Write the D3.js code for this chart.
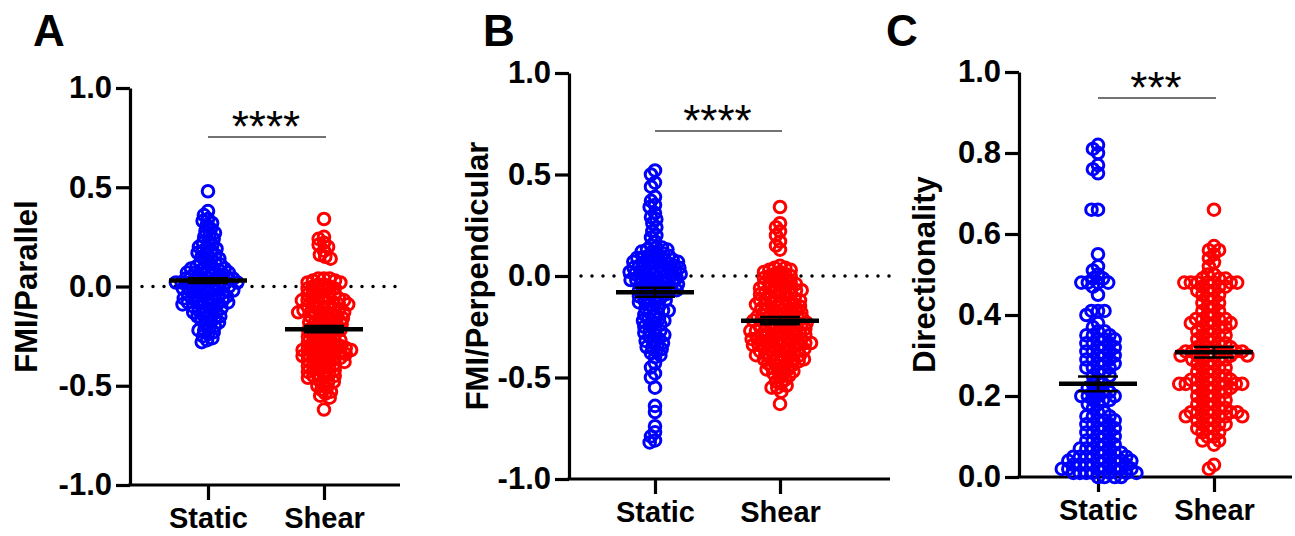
<!DOCTYPE html>
<meta charset="utf-8">
<head>
  <style>
    body { margin: 0; background: #fff; }
    .tick text { font-family: Arial, "Liberation Sans", sans-serif; font-weight: bold; fill: #000; }
    .axis-title { font-family: Arial, "Liberation Sans", sans-serif; font-weight: bold; font-size: 31px; }
    .panel-letter { font-family: Arial, "Liberation Sans", sans-serif; font-weight: bold; font-size: 44px; }
    .stars { font-family: Arial, "Liberation Sans", sans-serif; font-size: 44px; }
  </style>
</head>
<script src="https://d3js.org/d3.v7.min.js"></script>
<div id="my_dataviz"></div>
<script>
// categories and values
const categories = ["Static", "Shear"];

const parallelStatic = [0.48, 0.38, 0.36,
  0.34, 0.33, 0.32, 0.31,
  0.29, 0.28, 0.27, 0.26, 0.25,
  0.24, 0.23, 0.22, 0.21, 0.20, 0.20,
  0.19, 0.18, 0.18, 0.17, 0.16, 0.16, 0.15,
  0.14, 0.14, 0.13, 0.12, 0.12, 0.11, 0.11, 0.10, 0.10,
  0.09, 0.09, 0.09, 0.08, 0.08, 0.08, 0.07, 0.07, 0.07, 0.06, 0.06, 0.06, 0.05, 0.05, 0.05,
  0.04, 0.04, 0.04, 0.04, 0.03, 0.03, 0.03, 0.03, 0.02, 0.02, 0.02, 0.02, 0.01, 0.01, 0.01, 0.00, 0.00, 0.00,
  -0.01, -0.01, -0.01, -0.01, -0.02, -0.02, -0.02, -0.03, -0.03, -0.03, -0.04, -0.04, -0.04, -0.05, -0.05, -0.05,
  -0.06, -0.06, -0.06, -0.07, -0.07, -0.07, -0.08, -0.08, -0.08, -0.09, -0.09, -0.09, -0.10, -0.10,
  -0.11, -0.11, -0.12, -0.12, -0.13, -0.13, -0.14, -0.14, -0.15, -0.15,
  -0.16, -0.16, -0.17, -0.18, -0.18, -0.19, -0.20,
  -0.21, -0.22, -0.22, -0.23, -0.24, -0.25, -0.26, -0.27, -0.28];
const parallelShear = [0.34, 0.25, 0.24, 0.22, 0.21, 0.20, 0.18, 0.16, 0.15, 0.14,
  0.04, 0.04, 0.04, 0.03, 0.03, 0.02, 0.02, 0.01, 0.01, 0.00, 0.00,
  -0.01, -0.01, -0.02, -0.02, -0.03, -0.03, -0.04, -0.04, -0.05, -0.05,
  -0.06, -0.06, -0.06, -0.07, -0.07, -0.07, -0.08, -0.08, -0.08, -0.09, -0.09, -0.09, -0.10, -0.10,
  -0.11, -0.11, -0.11, -0.12, -0.12, -0.12, -0.13, -0.13, -0.13, -0.14, -0.14, -0.14, -0.15, -0.15,
  -0.16, -0.16, -0.17, -0.17, -0.18, -0.18, -0.18, -0.19, -0.19, -0.20, -0.20,
  -0.21, -0.21, -0.22, -0.22, -0.22, -0.23, -0.23, -0.24, -0.24, -0.25, -0.25,
  -0.26, -0.26, -0.27, -0.27, -0.27, -0.28, -0.28, -0.29, -0.29, -0.30, -0.30, -0.30,
  -0.31, -0.31, -0.31, -0.32, -0.32, -0.32, -0.32, -0.33, -0.33, -0.33, -0.34, -0.34, -0.34, -0.35, -0.35, -0.35,
  -0.36, -0.36, -0.36, -0.37, -0.37, -0.38, -0.38, -0.38, -0.39, -0.39, -0.40, -0.40,
  -0.41, -0.41, -0.42, -0.42, -0.43, -0.43, -0.44, -0.44, -0.45, -0.45,
  -0.46, -0.46, -0.47, -0.48, -0.48, -0.49, -0.50,
  -0.51, -0.52, -0.53, -0.54, -0.55, -0.56, -0.62];

const perpStatic = [0.52, 0.50, 0.46, 0.44, 0.39, 0.37, 0.35, 0.34, 0.31, 0.29, 0.28, 0.26, 0.24, 0.22, 0.20, 0.19, 0.17,
  0.15, 0.14, 0.14, 0.13, 0.13, 0.12, 0.12, 0.11, 0.11, 0.10, 0.10,
  0.09, 0.09, 0.09, 0.08, 0.08, 0.08, 0.07, 0.07, 0.07, 0.06, 0.06, 0.06, 0.05, 0.05, 0.05,
  0.04, 0.04, 0.04, 0.03, 0.03, 0.03, 0.03, 0.02, 0.02, 0.02, 0.01, 0.01, 0.01, 0.01, 0.00, 0.00, 0.00,
  -0.01, -0.01, -0.01, -0.02, -0.02, -0.02, -0.02, -0.03, -0.03, -0.03, -0.04, -0.04, -0.04, -0.05, -0.05,
  -0.06, -0.06, -0.06, -0.07, -0.07, -0.07, -0.08, -0.08, -0.09, -0.09, -0.10, -0.10,
  -0.11, -0.11, -0.12, -0.12, -0.13, -0.13, -0.14, -0.15,
  -0.16, -0.16, -0.17, -0.17, -0.18, -0.18, -0.19, -0.20,
  -0.21, -0.21, -0.22, -0.22, -0.23, -0.24, -0.24, -0.25,
  -0.26, -0.27, -0.27, -0.28, -0.29, -0.29, -0.30,
  -0.31, -0.32, -0.32, -0.33, -0.34, -0.35, -0.35,
  -0.36, -0.37, -0.38, -0.39, -0.40,
  -0.43, -0.45, -0.48, -0.50, -0.55, -0.64, -0.67, -0.74, -0.77, -0.79, -0.81, -0.82];
const perpShear = [0.34, 0.26, 0.24, 0.22, 0.20, 0.17, 0.15, 0.13,
  0.05, 0.04, 0.04, 0.03, 0.03, 0.02, 0.02, 0.01, 0.01, 0.00, 0.00,
  -0.01, -0.01, -0.02, -0.02, -0.03, -0.03, -0.04, -0.04, -0.04, -0.05, -0.05,
  -0.06, -0.06, -0.06, -0.07, -0.07, -0.07, -0.08, -0.08, -0.08, -0.09, -0.09, -0.10, -0.10,
  -0.11, -0.11, -0.11, -0.12, -0.12, -0.12, -0.13, -0.13, -0.13, -0.14, -0.14, -0.14, -0.15, -0.15, -0.15,
  -0.16, -0.16, -0.16, -0.17, -0.17, -0.17, -0.18, -0.18, -0.18, -0.19, -0.19, -0.19, -0.20, -0.20, -0.20,
  -0.21, -0.21, -0.21, -0.21, -0.22, -0.22, -0.22, -0.23, -0.23, -0.23, -0.23, -0.24, -0.24, -0.24, -0.25, -0.25, -0.25,
  -0.26, -0.26, -0.26, -0.26, -0.27, -0.27, -0.27, -0.27, -0.28, -0.28, -0.28, -0.29, -0.29, -0.29, -0.29, -0.30, -0.30, -0.30,
  -0.31, -0.31, -0.31, -0.31, -0.32, -0.32, -0.32, -0.32, -0.33, -0.33, -0.33, -0.33, -0.34, -0.34, -0.34, -0.34, -0.35, -0.35, -0.35,
  -0.36, -0.36, -0.36, -0.36, -0.37, -0.37, -0.37, -0.38, -0.38, -0.38, -0.39, -0.39, -0.39, -0.40, -0.40, -0.40,
  -0.41, -0.41, -0.41, -0.42, -0.42, -0.42, -0.43, -0.43, -0.44, -0.44, -0.45, -0.45,
  -0.46, -0.46, -0.47, -0.47, -0.48, -0.48, -0.49, -0.50,
  -0.51, -0.52, -0.53, -0.54, -0.55, -0.55, -0.57, -0.63];

const dirStatic = [0.82, 0.81, 0.80, 0.77, 0.76, 0.75, 0.66, 0.66, 0.55,
  0.52, 0.51, 0.50, 0.49, 0.49, 0.48, 0.48, 0.48, 0.48, 0.47, 0.45,
  0.41, 0.41, 0.41, 0.40, 0.38, 0.37, 0.36, 0.36,
  0.35, 0.35, 0.35, 0.34, 0.34, 0.34, 0.33, 0.33, 0.33, 0.32, 0.32, 0.32, 0.31, 0.31, 0.31,
  0.30, 0.30, 0.30, 0.29, 0.29, 0.29, 0.28, 0.28, 0.28, 0.27, 0.27, 0.27,
  0.26, 0.26, 0.25, 0.25, 0.24, 0.23, 0.23,
  0.22, 0.22, 0.21, 0.21, 0.21, 0.20, 0.20, 0.20, 0.20, 0.19, 0.19, 0.19, 0.18, 0.18,
  0.17, 0.16, 0.16, 0.15, 0.15, 0.15, 0.14, 0.14, 0.14, 0.13, 0.13, 0.13, 0.12, 0.12, 0.12, 0.11, 0.11, 0.11, 0.10, 0.10, 0.10,
  0.09, 0.09, 0.09, 0.08, 0.08, 0.08, 0.07, 0.07, 0.07, 0.07, 0.06, 0.06, 0.06, 0.06,
  0.05, 0.05, 0.05, 0.05, 0.05, 0.05, 0.04, 0.04, 0.04, 0.04, 0.04, 0.04,
  0.03, 0.03, 0.03, 0.03, 0.03, 0.03, 0.02, 0.02, 0.02, 0.02, 0.02, 0.02, 0.02,
  0.01, 0.01, 0.01, 0.01, 0.01, 0.01, 0.01, 0.00, 0.00, 0.00, 0.00];
const dirShear = [0.66, 0.57, 0.56, 0.56, 0.55, 0.54, 0.53, 0.52,
  0.50, 0.50, 0.49, 0.49, 0.49, 0.48, 0.48, 0.48, 0.48, 0.48, 0.48, 0.48, 0.47, 0.47, 0.47, 0.46, 0.46, 0.46, 0.45, 0.45,
  0.44, 0.44, 0.43, 0.43, 0.42, 0.42, 0.41, 0.41, 0.40, 0.40,
  0.39, 0.39, 0.39, 0.39, 0.38, 0.38, 0.38, 0.38, 0.37, 0.37, 0.37, 0.36, 0.36, 0.36, 0.35, 0.35, 0.35,
  0.34, 0.34, 0.34, 0.33, 0.33, 0.33,
  0.32, 0.32, 0.32, 0.32, 0.31, 0.31, 0.31, 0.31, 0.31, 0.31, 0.31, 0.30, 0.30, 0.30, 0.30, 0.30, 0.30, 0.29, 0.29, 0.29, 0.29,
  0.28, 0.28, 0.28, 0.27, 0.27, 0.27, 0.26, 0.26, 0.26, 0.25, 0.25, 0.25,
  0.24, 0.24, 0.24, 0.24, 0.24, 0.23, 0.23, 0.23, 0.23, 0.23, 0.23, 0.23, 0.22, 0.22, 0.22, 0.22, 0.21, 0.21, 0.21,
  0.20, 0.20, 0.20, 0.19, 0.19, 0.19, 0.18, 0.18, 0.18, 0.17, 0.17, 0.17,
  0.16, 0.16, 0.16, 0.16, 0.16, 0.16, 0.15, 0.15, 0.15, 0.15, 0.15, 0.14, 0.14, 0.14, 0.13, 0.13, 0.13, 0.12, 0.12, 0.12,
  0.11, 0.11, 0.10, 0.10, 0.09, 0.09, 0.08, 0.03, 0.02];

// mean and SEM as drawn in the figure
const parallelMean = [0.03, -0.215], parallelSem = [0.012, 0.016];
const perpMean = [-0.08, -0.22], perpSem = [0.022, 0.018];
const dirMean = [0.23, 0.308], dirSem = [0.018, 0.013];

// tick values / labels
const fmiTicks = [-1, -0.5, 0, 0.5, 1];
const fmiTickLabels = ["-1.0", "-0.5", "0.0", "0.5", "1.0"];
const dirTicks = [0, 0.2, 0.4, 0.6, 0.8, 1];
const dirTickLabels = ["0.0", "0.2", "0.4", "0.6", "0.8", "1.0"];

const COLORS = ["#0000FF", "#FF0000"];

const panels = [
  { letter: "A", lx: 33, title: "FMI/Parallel", ax: 130, xEnd: 400, cx: [208, 324], top: 88, bot: 485,
    domain: [-1, 1], ticks: fmiTicks, labels: fmiTickLabels, groups: [parallelStatic, parallelShear],
    mean: parallelMean, sem: parallelSem, stars: "****", sigY: 137, zero: true, titleX: 26, spacing: 5.7 },
  { letter: "B", lx: 483, title: "FMI/Perpendicular", ax: 569, xEnd: 890, cx: [655, 780], top: 73, bot: 479,
    domain: [-1, 1], ticks: fmiTicks, labels: fmiTickLabels, groups: [perpStatic, perpShear],
    mean: perpMean, sem: perpSem, stars: "****", sigY: 131, zero: true, titleX: 477, spacing: 5.7 },
  { letter: "C", lx: 886, title: "Directionality", ax: 1019, xEnd: 1292, cx: [1098, 1214], top: 72, bot: 477,
    domain: [0, 1], ticks: dirTicks, labels: dirTickLabels, groups: [dirStatic, dirShear],
    mean: dirMean, sem: dirSem, stars: "***", sigY: 98, zero: false, titleX: 924, spacing: 6.5 }
];

const svg = d3.select("#my_dataviz")
  .append("svg")
  .attr("width", 1295)
  .attr("height", 536);

// simple beeswarm: place each point as close to the centre as it can go
function swarm(values, y, minDist) {
  const pts = values.map(v => ({ v: v, y: y(v) })).sort((a, b) => a.y - b.y);
  const placed = [];
  pts.forEach(p => {
    const blocked = [];
    placed.forEach(q => {
      const dy = Math.abs(p.y - q.y);
      if (dy < minDist) {
        const dx = Math.sqrt(minDist * minDist - dy * dy);
        blocked.push([q.x - dx, q.x + dx]);
      }
    });
    const cands = [0];
    blocked.forEach(b => cands.push(b[0], b[1]));
    cands.sort((a, b) => Math.abs(a) - Math.abs(b));
    p.x = cands.find(c => blocked.every(b => c <= b[0] + 1e-6 || c >= b[1] - 1e-6));
    placed.push(p);
  });
  return pts;
}

panels.forEach(P => {
  const g = svg.append("g");
  const y = d3.scaleLinear().domain(P.domain).range([P.bot, P.top]);
  const x = d3.scaleOrdinal().domain(categories).range(P.cx);

  // y axis
  g.append("g")
    .attr("transform", `translate(${P.ax},0)`)
    .call(d3.axisLeft(y).tickValues(P.ticks).tickFormat((d, i) => P.labels[i]).tickSize(14).tickSizeOuter(0).tickPadding(4))
    .call(a => a.selectAll("line, path").attr("stroke", "#000").attr("stroke-width", 3.2))
    .call(a => a.selectAll("text").style("font-size", "31px"));

  // x axis
  const xa = g.append("g")
    .attr("transform", `translate(0,${P.bot})`)
    .call(d3.axisBottom(x).tickSize(15).tickPadding(7));
  xa.select(".domain").remove();
  xa.selectAll("line").attr("stroke", "#000").attr("stroke-width", 3.2);
  xa.selectAll("text").style("font-size", "29px");
  g.append("line")
    .attr("x1", P.ax - 1.6).attr("x2", P.xEnd)
    .attr("y1", P.bot).attr("y2", P.bot)
    .attr("stroke", "#000").attr("stroke-width", 3.2);

  // dotted line at zero
  if (P.zero) {
    g.append("line")
      .attr("x1", P.ax + 12).attr("x2", P.xEnd)
      .attr("y1", y(0)).attr("y2", y(0))
      .attr("stroke", "#000").attr("stroke-width", 3.5)
      .attr("stroke-linecap", "round")
      .attr("stroke-dasharray", "0,11");
  }

  // points
  P.groups.forEach((vals, gi) => {
    const pts = swarm(vals, y, P.spacing);
    g.append("g").selectAll("circle")
      .data(pts)
      .enter()
      .append("circle")
      .attr("cx", d => x(categories[gi]) + d.x)
      .attr("cy", d => d.y)
      .attr("r", 5.8)
      .attr("fill", "none")
      .attr("stroke", COLORS[gi])
      .attr("stroke-width", 3);
  });

  // mean and SEM
  categories.forEach((c, gi) => {
    const cx = x(c), m = y(P.mean[gi]), hi = y(P.mean[gi] + P.sem[gi]), lo = y(P.mean[gi] - P.sem[gi]);
    g.append("line").attr("x1", cx - 39).attr("x2", cx + 39).attr("y1", m).attr("y2", m)
      .attr("stroke", "#000").attr("stroke-width", 4.5);
    g.append("line").attr("x1", cx).attr("x2", cx).attr("y1", hi).attr("y2", lo)
      .attr("stroke", "#000").attr("stroke-width", 2.5);
    [hi, lo].forEach(v => {
      g.append("line").attr("x1", cx - 20).attr("x2", cx + 20).attr("y1", v).attr("y2", v)
        .attr("stroke", "#000").attr("stroke-width", 2.5);
    });
  });

  // significance bar
  g.append("line")
    .attr("x1", x(categories[0])).attr("x2", x(categories[1]) + 2)
    .attr("y1", P.sigY).attr("y2", P.sigY)
    .attr("stroke", "#444").attr("stroke-width", 1.3);
  g.append("text")
    .attr("class", "stars")
    .attr("text-anchor", "middle")
    .attr("x", (x(categories[0]) + x(categories[1])) / 2)
    .attr("y", P.sigY + 5)
    .text(P.stars);

  // axis title
  g.append("text")
    .attr("class", "axis-title")
    .attr("text-anchor", "middle")
    .attr("transform", `translate(${P.titleX + 11},${(P.top + P.bot) / 2}) rotate(-90)`)
    .text(P.title);

  // panel letter
  g.append("text")
    .attr("class", "panel-letter")
    .attr("x", P.lx).attr("y", 46)
    .text(P.letter);
});
</script>
